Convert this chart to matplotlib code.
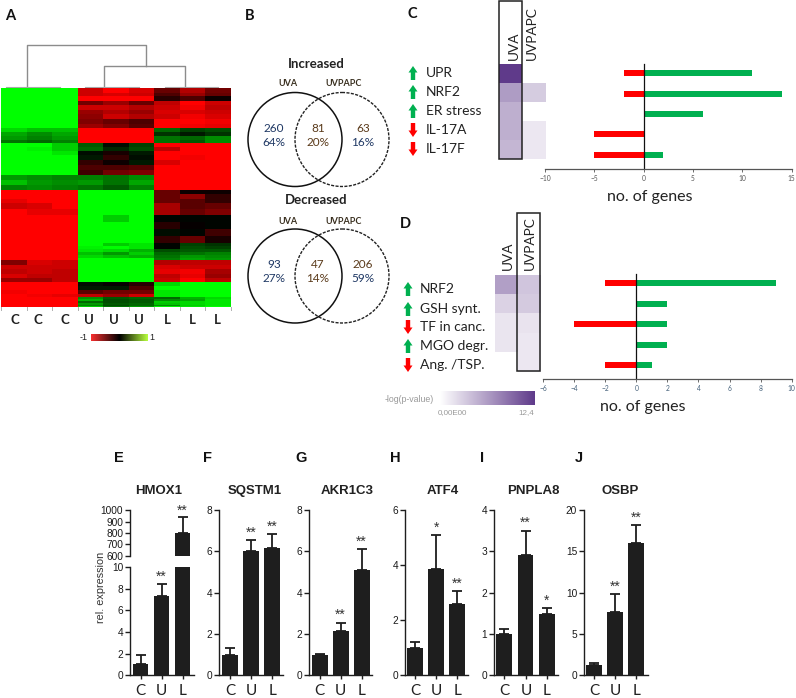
import numpy as np
import matplotlib
matplotlib.use("Agg")
import matplotlib.pyplot as plt
from matplotlib.colors import LinearSegmentedColormap
from matplotlib.patches import Circle, FancyArrow, Rectangle

W, H = 796, 698
SANS = "Lato"
ARIAL = "Liberation Sans"

# ---------- panel A ----------
group_labels = ["C", "C", "C", "U", "U", "U", "L", "L", "L"]
# rows in each block, then the nine column values (-1 red .. 1 green)
hm_rows = [5, 3, 5, 4, 5, 4, 5, 5, 4, 4, 4, 4, 3, 4, 4, 4, 5, 5, 5, 5, 5, 5, 5, 4, 5, 4, 6, 6, 7, 7, 7, 7,
           3, 3, 3, 3, 3, 2, 5, 4, 5, 4, 4, 4, 4, 4, 3, 2, 2, 2, 2, 1, 1]
hm_vals = [
 [1,1,1,-.8,-1,-.85,-.4,-.7,-.45],[1,1,1,-.8,-.85,-.8,-.3,-.6,-.4],[1,1,1,-1,-1,-1,-.15,-.3,-.05],
 [1,1,1,-.45,-.6,-.4,-.75,-1,-.8],[1,1,1,-.8,-.8,-.7,-.8,-.95,-.75],[1,1,1,-.6,-.7,-.6,-.85,-.85,-.8],
 [1,1,1,-.55,-.8,-.7,-.8,-.95,-.85],[1,1,1,-.5,-.4,-.3,-1,-1,-.95],[1,1,1,-.6,-.5,-.35,-1,-.95,-.9],
 [.85,.75,.75,-1,-1,-1,.4,.25,.3],[.65,.55,.65,-1,-1,-1,.2,.1,.2],[.6,.5,.6,-1,-1,-1,.45,.4,.55],[.45,.4,.5,-1,-1,-1,.45,.35,.55],
 [1,1,.8,.35,.05,.25,-1,-1,-1],[1,.95,.8,.4,.15,.3,-.75,-1,-1],[1,1,.9,.05,-.1,.1,-1,-1,-1],
 [1,1,1,.1,-.2,.05,-1,-.95,-1],[1,1,1,-.2,-.05,.1,-.85,-1,-1],[1,1,1,-.3,-.3,-.35,-1,-1,-1],[1,1,1,-.25,-.45,-.5,-1,-1,-1],
 [.6,.55,.5,.5,.45,.55,-1,-1,-1],[.75,.6,.55,.6,.45,.65,-1,-1,-1],[.5,.55,.5,.45,.35,.5,-1,-1,-1],
 [-1,-1,-1,1,1,1,-.4,-.05,-.05],[-1,-1,-1,1,1,1,-.4,-.55,-.2],[-.9,-1,-1,1,1,1,-.4,-.35,-.2],
 [-.8,-.85,-1,1,1,1,-.65,-.35,-.4],[-1,-.9,-.9,1,1,1,-.65,-.4,-.5],
 [-1,-1,-1,1,.8,1,.02,.02,.02],[-1,-1,-1,1,1,1,-.15,-.02,.02],[-1,-1,-1,1,1,1,.05,.02,-.25],[-1,-1,-1,1,1,1,-.2,-.4,-.1],
 [-1,-1,-1,1,.8,.9,.02,.25,.2],[-1,-1,-1,.95,1,.9,.02,.3,.25],[-1,-1,-1,.9,.85,.7,.3,.35,.35],
 [-1,-1,-1,.75,.6,.8,.4,.45,.5],[-1,-1,-1,.85,.75,.7,.45,.6,.55],[-1,-1,-1,1,1,1,.5,.65,.6],
 [-.5,-.85,-.8,1,1,1,-.7,-.75,-.75],[-.8,-.8,-.8,1,1,1,-.85,-.8,-.8],[-.75,-.8,-.75,1,1,1,-.9,-.95,-.65],
 [-.85,-.75,-.75,1,1,1,-.75,-.9,-.6],[-.6,-.6,-.75,1,1,1,-.8,-1,-.75],
 [-1,-1,-1,.05,-.02,-.15,.85,1,1],[-1,-1,-1,.1,.1,-.3,1,1,1],[-.95,-1,-1,-.35,-.45,-.45,.9,1,1],[-1,-.95,-.9,-.75,-.6,-.8,.9,1,1],
 [-1,-1,-1,.55,.35,.4,.4,.7,.85],[-1,-1,-1,.7,.3,.35,.55,.65,.9],[-1,-1,-1,.4,.3,.35,.8,.85,.9],
 [-1,-1,-1,.6,.35,.4,.75,.85,.9],[-1,-1,-1,.5,.3,.4,.55,.8,.9],[-1,-1,-1,.8,.45,.6,.95,.9,1],
]

# ---------- panel B ----------
venn_titles = ["Increased", "Decreased"]
venn_inc = [("260", "64%"), ("81", "20%"), ("63", "16%")]
venn_dec = [("93", "27%"), ("47", "14%"), ("206", "59%")]

# ---------- panels C, D ----------
c_terms = ["UPR", "NRF2", "ER stress", "IL-17A", "IL-17F"]
c_dirs = [1, 1, 1, -1, -1]
c_uva = [12.4, 6.2, 5.0, 5.0, 4.6]
c_uvpapc = [np.nan, 3.2, np.nan, 1.5, 1.5]
c_down = [-2, -2, 0, -5, -5]
c_up = [11, 14, 6, 0, 2]
c_ticks = [-10, -5, 0, 5, 10, 15]

d_terms = ["NRF2", "GSH synt.", "TF in canc.", "MGO degr.", "Ang. /TSP."]
d_dirs = [1, 1, -1, 1, -1]
d_uva = [6.0, 2.8, 1.6, 1.6, np.nan]
d_uvpapc = [3.6, 3.3, 1.7, 1.5, 1.5]
d_down = [-2, 0, -4, 0, -2]
d_up = [9, 2, 2, 2, 1]
d_ticks = [-6, -4, -2, 0, 2, 4, 6, 8, 10]

# ---------- panels E-J ----------
bar_cats = ["C", "U", "L"]
hmox_vals = [1.0, 7.3, 800]
hmox_errs = [0.9, 1.1, 140]
hmox_stars = ["", "**", "**"]
sqstm_vals = [1.0, 6.0, 6.15]
sqstm_errs = [0.3, 0.55, 0.7]
sqstm_stars = ["", "**", "**"]
akr_vals = [1.0, 2.15, 5.1]
akr_errs = [0.05, 0.4, 1.0]
akr_stars = ["", "**", "**"]
atf_vals = [1.0, 3.85, 2.6]
atf_errs = [0.22, 1.25, 0.45]
atf_stars = ["", "*", "**"]
pnpla_vals = [1.0, 2.9, 1.48]
pnpla_errs = [0.13, 0.6, 0.14]
pnpla_stars = ["", "**", "*"]
osbp_vals = [1.2, 7.6, 16.0]
osbp_errs = [0.25, 2.2, 2.2]
osbp_stars = ["", "**", "**"]

fig = plt.figure(figsize=(W / 100, H / 100), dpi=100)


def pax(x0, y0, x1, y1, **kw):
    return fig.add_axes([x0 / W, 1 - y1 / H, (x1 - x0) / W, (y1 - y0) / H], **kw)


ov = pax(0, 0, W, H)
ov.set_xlim(0, W)
ov.set_ylim(H, 0)
ov.axis("off")
ov.set_zorder(5)

for s, x, y in [("A", 10, 16), ("B", 250, 16), ("C", 412, 14), ("D", 405, 224), ("E", 119, 458), ("F", 207, 458),
                ("G", 301, 458), ("H", 395, 458), ("I", 482, 458), ("J", 579, 458)]:
    ov.text(x, y, s, family=ARIAL if s in "EFGHIJ" else SANS, fontweight="bold", fontsize=10.5,
            ha="center", va="center", color="#111111")

# --- A
rg = LinearSegmentedColormap.from_list("rg", ["#ff0000", "#000000", "#00ff00"])
mat = np.repeat(np.array(hm_vals), hm_rows, axis=0)
a = pax(1, 88, 231, 307)
a.imshow(mat, cmap=rg, vmin=-1, vmax=1, aspect="auto", interpolation="nearest")
a.axis("off")
d = pax(1, 40, 231, 88)
d.set_xlim(0, 9)
d.set_ylim(48, 0)
d.axis("off")
GR = "#8c8c8c"
d.plot([1.0, 1.0, 5.67, 5.67], [47.5, 4.5, 4.5, 26], color=GR, lw=1)
d.plot([4.05, 4.05, 7.2, 7.2], [47.5, 26, 26, 46.5], color=GR, lw=1)
for xa, xb, yy in [(0.2, 2.3, 47.2), (3.3, 5.4, 47.2), (6.4, 8.5, 46.5)]:
    d.plot([xa, xb], [yy, yy], color="#a8a8a8", lw=0.8)
for s, x in zip(group_labels, [15, 38, 65, 89, 114, 139, 167, 192, 217]):
    ov.text(x, 320, s, family=SANS, fontsize=9.5, fontweight="bold", ha="center", va="center", color="#222222")
for i in range(10):
    xx = 1 + i * 230 / 9
    ov.plot([xx, xx], [307, 310], color="#b0b0b0", lw=0.7)
cb = pax(91, 334, 147.5, 341)
cb.imshow(np.linspace(-1, 1, 256)[None, :],
          cmap=LinearSegmentedColormap.from_list("rgy", ["#f83030", "#000000", "#b8ff40"]), aspect="auto")
cb.axis("off")
ov.text(84, 338, "-1", fontsize=6.5, family=ARIAL, ha="center", va="center", color="#222222")
ov.text(152, 338, "1", fontsize=6.5, family=ARIAL, ha="center", va="center", color="#222222")

# --- B
for yc, title, ty, lty, vals in [(139.5, venn_titles[0], 64, 83, venn_inc), (276, venn_titles[1], 200, 221, venn_dec)]:
    ov.add_patch(Circle((295, yc), 47, fill=False, ec="#111111", lw=1.1))
    ov.add_patch(Circle((342, yc), 47, fill=False, ec="#222222", lw=1.0, ls=(0, (2.2, 1))))
    ov.text(316, ty, title, family=SANS, fontweight="bold", fontsize=9.5, ha="center", va="center", color="#222222")
    ov.text(288, lty, "UVA", family=SANS, fontweight="bold", fontsize=6.5, ha="center", va="center", color="#3a3020")
    ov.text(344, lty, "UVPAPC", family=SANS, fontweight="bold", fontsize=6.5, ha="center", va="center", color="#3a3020")
    for (n, p), x, col1, col2 in zip(vals, [274, 318, 363], ["#1f3864", "#5a3a1a", "#5a3a1a"],
                                     ["#1f3864", "#5a3a1a", "#1f3864"]):
        ov.text(x, yc - 11, n, family=SANS, fontsize=8.5, ha="center", va="center", color=col1)
        ov.text(x, yc + 3, p, family=SANS, fontsize=8.5, ha="center", va="center", color=col2)

# --- C, D
pur = LinearSegmentedColormap.from_list("pur", ["#ffffff", "#5f3a8a"])


def arrow(x, y, up, col):
    sign = -1 if up else 1
    ov.add_patch(FancyArrow(x, y - sign * 7, 0, sign * 14, width=4.4, head_width=9, head_length=6.5,
                            length_includes_head=True, fc=col, ec="none"))


def panel(terms, dirs, uva, uvp, down, up, ticks, hm_box, rows_y, label_x, arrow_x, label_ys, ax_box, xlim, box,
          hdr, tick_col, xlabel_pos):
    hx0, hx1, hy0, hy1 = hm_box
    hm = pax(hx0, hy0, hx1, hy1)
    hm.imshow(np.array([uva, uvp]).T, cmap=pur, vmin=0, vmax=12.4, aspect="auto", interpolation="nearest")
    hm.axis("off")
    b = pax(*ax_box)
    b.set_xlim(*xlim)
    b.set_ylim(ax_box[3], ax_box[1])
    b.barh(rows_y, down, height=6, color="#ff0000")
    b.barh(rows_y, up, height=6, color="#00b050")
    b.plot([0, 0], [rows_y[0] - 9, ax_box[3]], color="#111111", lw=0.9)
    for sp in ["left", "right", "top"]:
        b.spines[sp].set_visible(False)
    b.spines["bottom"].set_color("#555555")
    b.spines["bottom"].set_linewidth(0.9)
    b.set_yticks([])
    b.set_xticks(ticks)
    b.tick_params(axis="x", length=2, width=0.6, color="#555555", labelsize=4.8, labelcolor=tick_col, pad=2.5)
    for t in b.get_xticklabels():
        t.set_family(SANS)
    b.patch.set_alpha(0)
    for s, dd, ly in zip(terms, dirs, label_ys):
        ov.text(label_x, ly, s, family=SANS, fontsize=10, ha="left", va="center", color="#222222")
        arrow(arrow_x, ly, dd > 0, "#00b050" if dd > 0 else "#ff0000")
    ov.add_patch(Rectangle((box[0], box[2]), box[1] - box[0], box[3] - box[2], fill=False, ec="#222222", lw=1.1))
    for s, x, y in hdr:
        ov.text(x, y, s, family=SANS, fontsize=9.8, rotation=90, ha="center", va="bottom", color="#222222")
    ov.text(xlabel_pos[0], xlabel_pos[1], "no. of genes", family=SANS, fontsize=11.5, ha="center", va="center",
            color="#222222")


panel(c_terms, c_dirs, c_uva, c_uvpapc, c_down, c_up, c_ticks, (499.5, 546.5, 64, 159),
      [72.7, 93.7, 114, 134, 155], 426, 413, [73, 92, 111, 130, 149], (545, 40, 791.7, 169), (-10, 15),
      (498.5, 522, 1, 159), [("UVA", 514, 60), ("UVPAPC", 532, 60)], "#555555", (650, 197))
panel(d_terms, d_dirs, d_uva, d_uvpapc, d_down, d_up, d_ticks, (495, 540, 275, 372),
      [283, 304, 324, 345, 365], 420, 408, [289, 309, 327, 346, 365], (543, 250, 791.7, 379), (-6, 10),
      (517, 540, 213, 371), [("UVA", 508, 270), ("UVPAPC", 530, 270)], "#44607a", (643, 407))

cbp = pax(440, 391, 534, 405)
cbp.imshow(np.linspace(0, 1, 256)[None, :], cmap=pur, aspect="auto")
cbp.axis("off")
ov.text(385, 399, "-log(p-value)", family=ARIAL, fontsize=6.3, color="#999999", ha="left", va="center")
ov.text(438, 413, "0,00E00", family=ARIAL, fontsize=5.8, color="#999999", ha="left", va="center")
ov.text(534, 413, "12,4", family=ARIAL, fontsize=5.8, color="#999999", ha="right", va="center")

# --- E-J
BAR = "#1e1e1e"
STAR = dict(family=ARIAL, fontsize=10, ha="center", va="center", color="#333333", clip_on=False)


def style(ax):
    for sp in ["right", "top"]:
        ax.spines[sp].set_visible(False)
    for sp in ["left", "bottom"]:
        ax.spines[sp].set_linewidth(1.0)
        ax.spines[sp].set_color(BAR)
    ax.tick_params(axis="y", length=3.5, width=1.0, labelsize=7.3, pad=1.5, color=BAR, labelcolor="#1a1a1a")
    for t in ax.get_yticklabels():
        t.set_family(ARIAL)
    ax.patch.set_alpha(0)


def bars(x0, xr, centers, ymax, yticks, vals, errs, stars, title, title_x):
    step = (centers[2] - centers[0]) / 2
    left = (x0 - centers[0]) / step
    right = (xr - centers[0]) / step
    ax = pax(x0, 510, xr, 675.3)
    ax.bar(range(3), vals, width=0.75, color=BAR)
    ax.errorbar(range(3), vals, yerr=[[0, 0, 0], errs], fmt="none", ecolor=BAR, elinewidth=1.3, capsize=3.6, capthick=1.3)
    ax.set_xlim(left, right)
    ax.set_ylim(0, ymax)
    ax.set_yticks(yticks)
    ax.set_yticklabels([str(t) for t in yticks])
    ax.set_xticks(range(3))
    ax.set_xticklabels([])
    ax.tick_params(axis="x", length=3, width=1.0, color=BAR)
    style(ax)
    for i, s in enumerate(stars):
        if s:
            ax.text(i, vals[i] + errs[i] + 0.045 * ymax, s, **STAR)
    for c, s in zip(centers, bar_cats):
        ov.text(c, 691, s, family=SANS, fontsize=11, ha="center", va="center", color="#222222")
    ov.text(title_x, 491, title, family=ARIAL, fontweight="bold", fontsize=9.5, ha="center", va="center", color="#222222")
    return ax


# HMOX1: broken axis
cx = [140.5, 161.5, 182.5]
step = 21
xlim = ((130 - cx[0]) / step, (194 - cx[0]) / step)
low = pax(130, 567, 194, 675.3)
low.bar(range(3), [min(v, 10) for v in hmox_vals], width=0.75, color=BAR)
low.errorbar(range(2), hmox_vals[:2], yerr=[[0, 0], hmox_errs[:2]], fmt="none", ecolor=BAR, elinewidth=1.3, capsize=3.6,
             capthick=1.3)
low.set_xlim(*xlim)
low.set_ylim(0, 10)
low.set_yticks([0, 2, 4, 6, 8, 10])
low.set_xticks(range(3))
low.set_xticklabels([])
low.tick_params(axis="x", length=3, width=1.0, color=BAR)
style(low)
low.text(1, hmox_vals[1] + hmox_errs[1] + 0.7, hmox_stars[1], **STAR)
up_ax = pax(130, 510, 194, 556)
up_ax.bar(range(3), hmox_vals, width=0.75, color=BAR)
up_ax.errorbar([2], hmox_vals[2], yerr=[[0], [hmox_errs[2]]], fmt="none", ecolor=BAR, elinewidth=1.3, capsize=3.6,
               capthick=1.3)
up_ax.set_xlim(*xlim)
up_ax.set_ylim(600, 1000)
up_ax.set_yticks([600, 700, 800, 900, 1000])
up_ax.set_xticks([])
style(up_ax)
up_ax.spines["bottom"].set_visible(False)
up_ax.text(2, 995, hmox_stars[2], **STAR)
for c, s in zip(cx, bar_cats):
    ov.text(c, 691, s, family=SANS, fontsize=11, ha="center", va="center", color="#222222")
ov.text(159, 491, "HMOX1", family=ARIAL, fontweight="bold", fontsize=9.5, ha="center", va="center", color="#222222")
ov.text(100.5, 587, "rel. expression", family=ARIAL, fontsize=7.8, rotation=90, ha="center", va="center", color="#333333")

bars(219.3, 283, [230, 251, 272.3], 8, [0, 2, 4, 6, 8], sqstm_vals, sqstm_errs, sqstm_stars, "SQSTM1", 255)
bars(309, 371.7, [319.7, 340.3, 361.7], 8, [0, 2, 4, 6, 8], akr_vals, akr_errs, akr_stars, "AKR1C3", 347)
bars(405, 468, [415, 436.3, 457.3], 6, [0, 2, 4, 6], atf_vals, atf_errs, atf_stars, "ATF4", 443)
bars(494.3, 558, [504.3, 526, 546.7], 4, [0, 1, 2, 3, 4], pnpla_vals, pnpla_errs, pnpla_stars, "PNPLA8", 533)
bars(584, 647.7, [594, 615.3, 636.3], 20, [0, 5, 10, 15, 20], osbp_vals, osbp_errs, osbp_stars, "OSBP", 620)

fig.savefig("out.png", dpi=100)
